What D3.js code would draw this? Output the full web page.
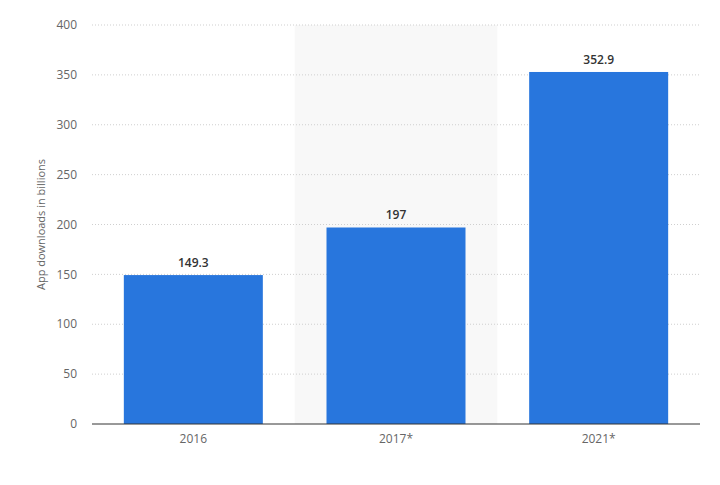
<!DOCTYPE html>
<html><head><meta charset="utf-8">
<script src="https://cdn.jsdelivr.net/npm/d3@7"></script>
<style>body{margin:0;background:#fff;font-family:"Open Sans",sans-serif}</style>
</head><body><div id="chart"></div>
<script>
var years = ["2016", "2017*", "2021*"];
var downloads = [149.3, 197, 352.9];
var yTicks = [0, 50, 100, 150, 200, 250, 300, 350, 400];

var margin = {left: 92, right: 20, top: 25, bottom: 61};
var width = 720 - margin.left - margin.right,
    height = 485 - margin.top - margin.bottom;

var svg = d3.select("#chart").append("svg").attr("width", 720).attr("height", 485);
var g = svg.append("g").attr("transform", "translate(" + margin.left + "," + margin.top + ")");

var x = d3.scaleBand().domain(years).range([0, width]).paddingInner(0).paddingOuter(0);
var y = d3.scaleLinear().domain([0, 400]).range([height, 0]);

// shaded middle band
g.append("rect").attr("x", x(years[1])).attr("y", 0)
    .attr("width", x.bandwidth()).attr("height", height).attr("fill", "#f8f8f8");

// grid
g.selectAll(".grid").data(yTicks.slice(1)).enter().append("line")
    .attr("x1", 0).attr("x2", width)
    .attr("y1", function(d){ return y(d); }).attr("y2", function(d){ return y(d); })
    .attr("stroke", "#cfcfcf").attr("stroke-dasharray", "1,2");

// y tick labels
g.selectAll(".yl").data(yTicks).enter().append("text")
    .attr("x", -15).attr("y", function(d){ return y(d); }).attr("dy", "0.35em")
    .attr("text-anchor", "end").attr("font-size", 12).attr("fill", "#666")
    .text(function(d){ return d; });

// bars
var inner = 139;
g.selectAll(".bar").data(downloads).enter().append("rect")
    .attr("x", function(d, i){ return x(years[i]) + (x.bandwidth() - inner) / 2; })
    .attr("y", function(d){ return y(d); })
    .attr("width", inner)
    .attr("height", function(d){ return height - y(d); })
    .attr("fill", "#2876dd");

// value labels
g.selectAll(".vl").data(downloads).enter().append("text")
    .attr("x", function(d, i){ return x(years[i]) + x.bandwidth() / 2; })
    .attr("y", function(d){ return y(d) - 8; })
    .attr("text-anchor", "middle").attr("font-size", 12).attr("font-weight", 600).attr("fill", "#333")
    .text(function(d){ return d; });

// x axis line
g.append("line").attr("x1", 0).attr("x2", width).attr("y1", height).attr("y2", height)
    .attr("stroke", "#333").attr("stroke-width", 1);

g.selectAll(".xl").data(years).enter().append("text")
    .attr("x", function(d){ return x(d) + x.bandwidth() / 2; })
    .attr("y", height + 19).attr("text-anchor", "middle")
    .attr("font-size", 12).attr("fill", "#666").text(function(d){ return d; });

// y title
svg.append("text").attr("transform", "translate(45," + (margin.top + height / 2) + ") rotate(-90)")
    .attr("text-anchor", "middle").attr("font-size", 11).attr("fill", "#666")
    .text("App downloads in billions");
</script></body></html>
